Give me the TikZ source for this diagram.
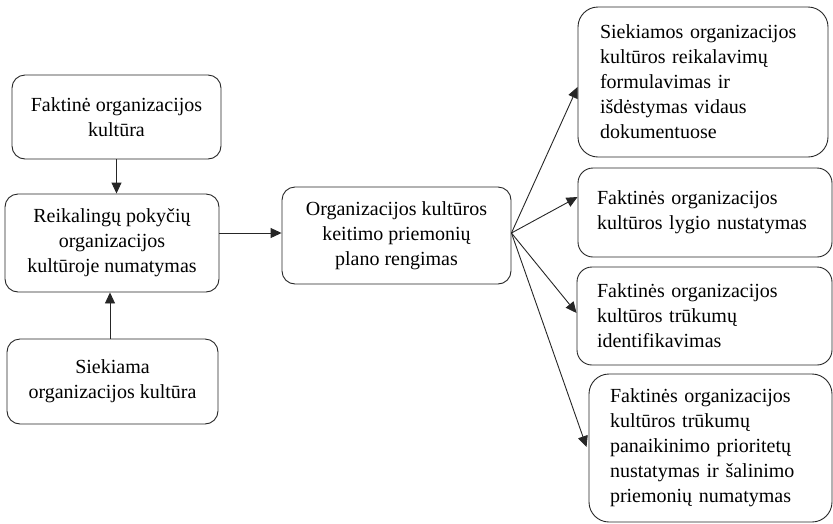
\documentclass[tikz,border=0pt]{standalone}
\usepackage{fontspec}
\setmainfont{Liberation Serif}
\usetikzlibrary{arrows.meta}

\tikzset{
  box/.style={draw=black!85, line width=0.9pt, rounded corners=13pt,
    font=\fontsize{20}{25}\selectfont, inner ysep=2pt},
  cbox/.style={box, align=center, inner xsep=4pt},
  lbox/.style={box, align=left},
  link/.style={draw=black!85, line width=0.9pt,
    -{Triangle[length=11pt,width=10pt]}}
}

\begin{document}
\begin{tikzpicture}[x=1pt,y=-1pt]
\useasboundingbox (0,0) rectangle (833,523);

% left column
\node[cbox, minimum width=209pt, minimum height=84pt] (A) at (116.5,117)
  {Faktinė organizacijos\\kultūra};
\node[cbox, minimum width=214pt, minimum height=98pt] (B) at (112,243)
  {Reikalingų pokyčių\\organizacijos\\kultūroje numatymas};
\node[cbox, minimum width=211pt, minimum height=85pt] (C) at (112.5,381.5)
  {Siekiama\\organizacijos kultūra};

% central step
\node[cbox, minimum width=229pt, minimum height=97pt] (D) at (396.5,235.5)
  {Organizacijos kultūros\\keitimo priemonių\\plano rengimas};

% right column
\node[lbox, rounded corners=20pt, text width=206pt, inner xsep=22pt,
  minimum height=150pt] (E1) at (703,82)
  {Siekiamos organizacijos\\kultūros reikalavimų\\formulavimas ir\\išdėstymas vidaus\\dokumentuose};
\node[lbox, rounded corners=15pt, text width=216pt, inner xsep=19pt,
  minimum height=89pt] (E2) at (705,212.5)
  {Faktinės organizacijos\\kultūros lygio nustatymas\par\vspace{12pt}};
\node[lbox, rounded corners=15pt, text width=215pt, inner xsep=20pt,
  minimum height=98pt] (E3) at (704.5,316)
  {Faktinės organizacijos\\kultūros trūkumų\\identifikavimas};
\node[lbox, rounded corners=20pt, text width=201pt, inner xsep=21pt,
  minimum height=148pt] (E4) at (710.5,448)
  {Faktinės organizacijos\\kultūros trūkumų\\panaikinimo prioritetų\\nustatymas ir šalinimo\\priemonių numatymas};

% connectors
\coordinate (cup) at ([xshift=-2.5pt]C.north);
\coordinate (bd) at ([yshift=2.5pt]D.west);
\coordinate (fan) at ([yshift=2.5pt]D.east);

\draw[link] (A.south) -- (A.south |- B.north);
\draw[link] (cup) -- (cup |- B.south);
\draw[link] (bd -| B.east) -- (bd);

\draw[link] (fan) -- ([yshift=-5pt]E1.west);
\draw[link] (fan) -- ([yshift=15.5pt]E2.west);
\draw[link] (fan) -- ([yshift=3pt]E3.west);
\draw[link] (fan) -- ([xshift=-2pt,yshift=1pt]E4.west);
\end{tikzpicture}
\end{document}
